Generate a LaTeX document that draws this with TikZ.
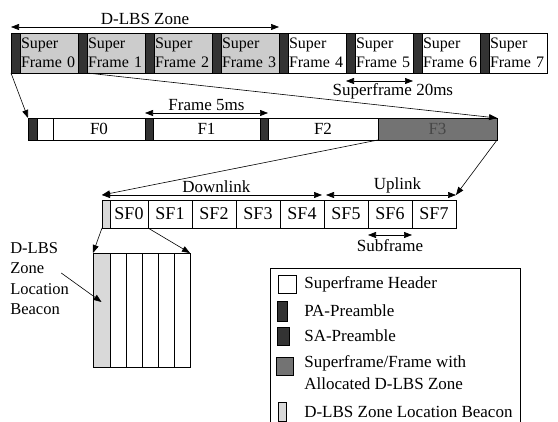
\documentclass[tikz,border=0pt]{standalone}
\usepackage{fontspec}
\setmainfont{Liberation Serif}
\usetikzlibrary{positioning,arrows.meta}
\colorlet{zone}{gray!40}
\colorlet{pream}{black!80}
\colorlet{allocated}{black!55}
\colorlet{beacon}{gray!30}

\begin{document}
\begin{tikzpicture}[
x=1pt,y=-1pt,
semithick,
font=\fontsize{17}{20}\selectfont,
cell/.style={
draw,
inner sep=0pt,
outer sep=0pt,
anchor=north west
},
preamble/.style={
cell,
fill=pream,
minimum width=9pt
},
superbox/.style={
cell,
minimum height=40pt,
text width=56pt,
inner xsep=1pt,
align=left,
font=\fontsize{16}{19}\selectfont
},
framebox/.style={
cell,
minimum height=22pt
},
subbox/.style={
cell,
minimum width=44pt,
minimum height=28pt,
font=\fontsize{18}{20}\selectfont
},
beaconcell/.style={
cell,
fill=beacon
},
keytext/.style={
anchor=west,
inner sep=0pt,
align=left,
font=\fontsize{17}{22}\selectfont
},
arrow/.style={
-{Triangle[length=8pt,width=6pt]}
},
span/.style={
{Triangle[length=8pt,width=6pt]}-{Triangle[length=8pt,width=6pt]}
}
]

\useasboundingbox (0,0) rectangle (558,422);

% Superframes
\foreach \i/\col in {0/zone,1/zone,2/zone,3/zone,4/white,5/white,6/white,7/white} {
\node[preamble, minimum height=40pt] (pa\i) at ({11+67*\i},33) {};
\node[superbox, fill=\col, right=0pt of pa\i] (sf\i) {Super\\Frame \i};
}

\draw[span] ([yshift=6pt]pa0.north west) -- node[above, inner sep=2pt] {D-LBS Zone} ([yshift=6pt]pa4.north west);
\draw[span] ([yshift=-8pt]pa5.south west) -- node[pos=0.7, below, inner sep=2pt] {Superframe 20ms} ([yshift=-8pt]sf5.south east);


% Frames
\node[preamble, minimum height=22pt] (fpa) at (28,118) {};
\node[framebox, minimum width=16pt, right=0pt of fpa] (hdr) {};
\node[framebox, minimum width=92pt, right=0pt of hdr] (f0) {F0};
\node[preamble, minimum width=8pt, minimum height=22pt, right=0pt of f0] (fsa1) {};
\node[framebox, minimum width=107pt, right=0pt of fsa1] (f1) {F1};
\node[preamble, minimum width=8pt, minimum height=22pt, right=0pt of f1] (fsa2) {};
\node[framebox, minimum width=110pt, right=0pt of fsa2] (f2) {F2};
\node[framebox, minimum width=119pt, fill=allocated, text=black!72, right=0pt of f2] (f3) {F3};

\draw[span] ([yshift=5pt]fsa1.north west) -- node[above, inner sep=2pt] {Frame 5ms} ([yshift=5pt]fsa2.north east);

% zoom superframe 0
\draw[arrow] (pa0.south west) -- (fpa.north west);
\draw[arrow] (sf1.south west) -- (f3.north east);


% Subframes
\node[beaconcell, minimum width=8pt, minimum height=28pt] (bcn) at (102,200) {};
\node[subbox, minimum width=38pt, right=0pt of bcn] (s0) {SF0};
\foreach \i in {1,...,7}
\node[subbox] (s\i) at ({104+44*\i},200) {SF\i};

\draw[span] ([yshift=5pt]bcn.north west) -- node[pos=0.52, above, inner sep=2pt] {Downlink} ([shift={(-2pt,5pt)}]s4.north east);
\draw[span] ([shift={(2pt,5pt)}]s5.north west) -- node[pos=0.55, above, inner sep=2pt] {Uplink} ([yshift=5pt]s7.north east);
\draw[span] ([yshift=-7pt]s6.south west) -- node[below, inner sep=4pt] {Subframe} ([yshift=-7pt]s6.south east);

% zoom frame 3
\draw[arrow] (f3.south west) -- ([yshift=5pt]bcn.north west);
\draw[arrow] (f3.south east) -- ([yshift=5pt]s7.north east);


% Symbols of SF0
\node[beaconcell, minimum width=17pt, minimum height=114pt] (dbcn) at (93,253) {};
\foreach \i in {1,...,5}
\node[cell, minimum width=16pt, minimum height=114pt] (sym\i) at ({94+16*\i},253) {};

\draw[arrow] (bcn.south west) -- (dbcn.north west);
\draw[arrow] (s0.south east) -- (sym5.north east);

\node[anchor=north west, inner sep=0pt, align=left, font=\fontsize{16.5}{20.5}\selectfont] (bcnlabel) at (10,242) {D-LBS\\Zone\\Location\\Beacon};
\draw[arrow] ([shift={(-8pt,-31pt)}]bcnlabel.north east) -- ([yshift=8pt]dbcn.center);


% Legend
\draw (270,422) -- (270,268) -- (520,268) -- (520,422);

\node[cell, anchor=west, minimum width=18pt, minimum height=18pt] (keyhdr) at (278,284) {};
\node[keytext] (txthdr) at (304,284) {Superframe Header};

\node[preamble, anchor=west, minimum width=10pt, minimum height=20pt] (keypa) at (277,311) {};
\node[keytext] (txtpa) at (304,311) {PA-Preamble};

\node[preamble, anchor=west, minimum width=12pt, minimum height=18pt] (keysa) at (277,336) {};
\node[keytext] (txtsa) at (304,336) {SA-Preamble};

\node[cell, anchor=west, fill=allocated, minimum width=17pt, minimum height=18pt] (keyzone) at (276,366) {};
\node[keytext, anchor=north west] (txtzone) at (304,355) {Superframe/Frame with\\Allocated D-LBS Zone};

\node[beaconcell, anchor=west, minimum width=8pt, minimum height=19pt] (keybcn) at (278,412) {};
\node[keytext] (txtbcn) at (304,412) {D-LBS Zone Location Beacon};

\end{tikzpicture}
\end{document}
